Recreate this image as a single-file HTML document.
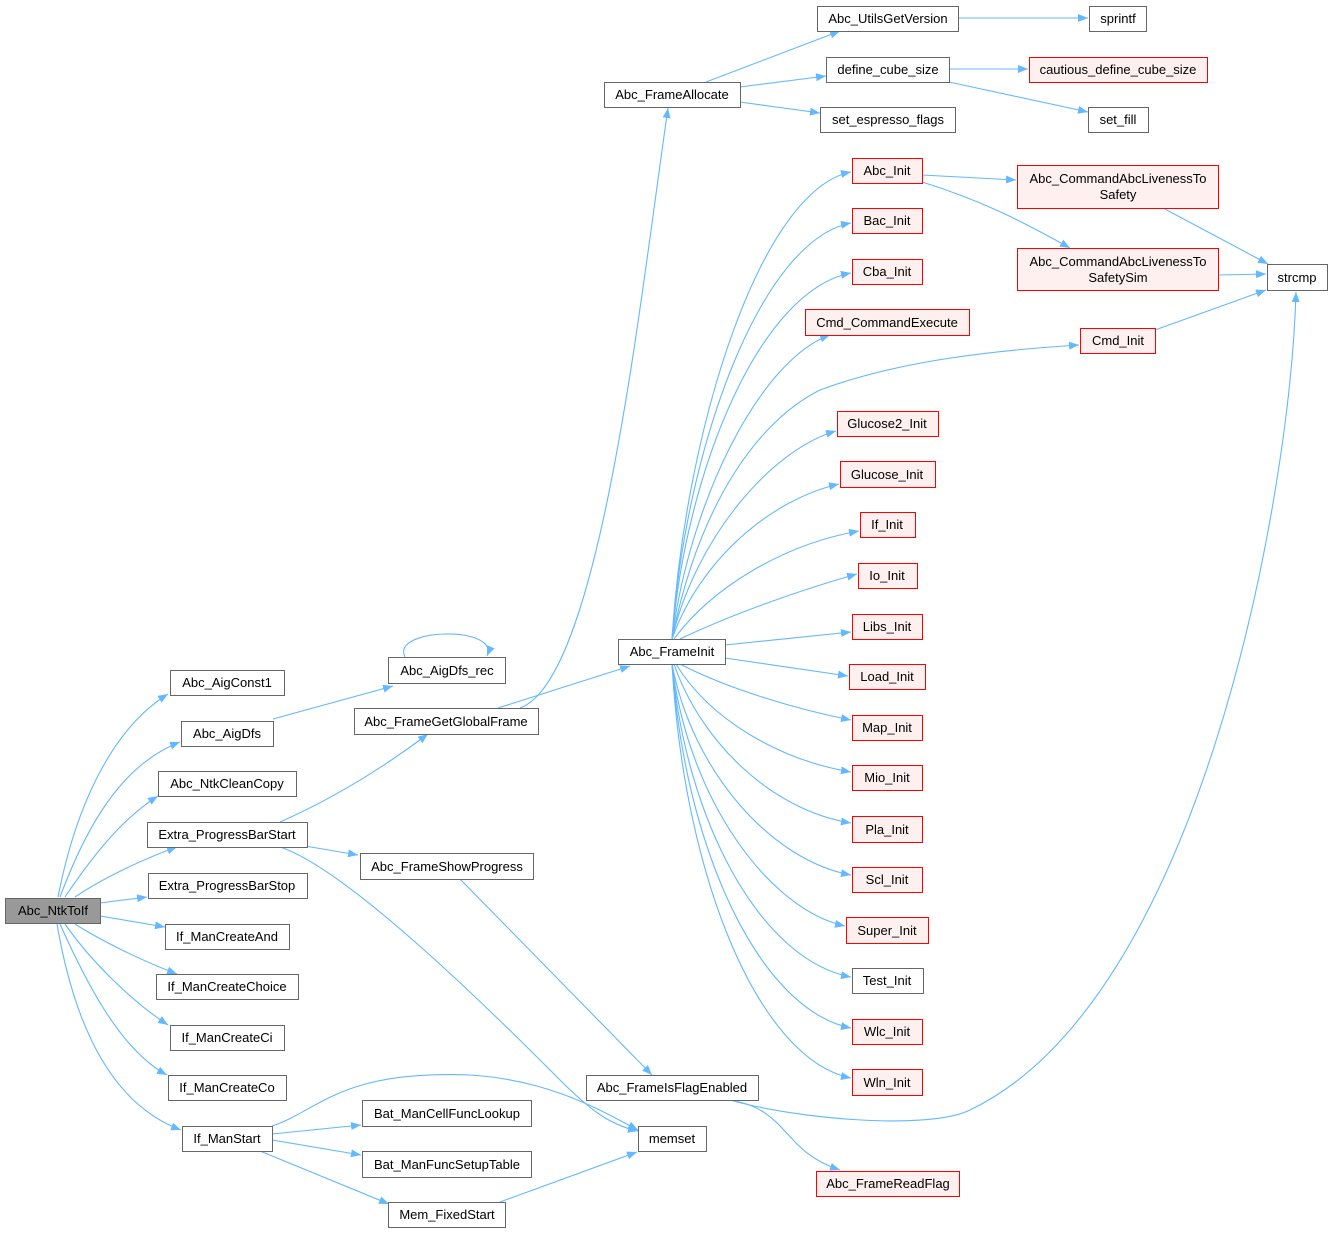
<!DOCTYPE html>
<html><head><meta charset="utf-8"><style>
html,body{margin:0;padding:0;background:#fff}
svg{display:block}
text{font-family:"Liberation Sans",Arial,sans-serif;font-size:13px;fill:#000;text-anchor:middle}
.e{fill:none;stroke:#63b8ff;stroke-width:1.1;marker-end:url(#a)}
.n{fill:#fff;stroke:#666;stroke-width:1}
.r{fill:#fff0f0;stroke:#f00;stroke-width:1}
.g{fill:#999;stroke:#666;stroke-width:1}
</style></head><body>
<svg width="1333" height="1233" viewBox="0 0 1333 1233" xmlns="http://www.w3.org/2000/svg">
<defs><marker id="a" markerUnits="userSpaceOnUse" markerWidth="11" markerHeight="8" refX="10" refY="4" orient="auto"><path d="M0,0 L10,4 L0,8 z" fill="#63b8ff"/></marker></defs>
<g>
<path class="e" d="M58,897 C75,810 110,730 168,694"/>
<path class="e" d="M60,897 C85,830 120,765 180,742"/>
<path class="e" d="M65,897 C90,860 120,820 158,796"/>
<path class="e" d="M75,897 C100,880 140,860 177,847"/>
<path class="e" d="M100,903 L147,897"/>
<path class="e" d="M100,916 L165,927"/>
<path class="e" d="M75,924 C100,940 140,960 177,974"/>
<path class="e" d="M65,924 C90,960 130,1000 168,1025"/>
<path class="e" d="M60,924 C85,980 120,1050 167,1075"/>
<path class="e" d="M57,924 C70,1000 100,1100 181,1130"/>
<path class="e" d="M273,719 L393,686"/>
<path class="e" d="M405,657 C390,628 500,625 487,656"/>
<path class="e" d="M280,822 C330,800 380,770 428,734"/>
<path class="e" d="M305,846 L358,855"/>
<path class="e" d="M280,847 C350,870 500,1020 560,1080 C590,1110 610,1125 638,1131"/>
<path class="e" d="M498,708 L630,666"/>
<path class="e" d="M520,708 C600,680 640,300 668,108"/>
<path class="e" d="M460,879 L652,1075"/>
<path class="e" d="M272,1126 C320,1110 340,1070 470,1075 C550,1080 600,1110 638,1130"/>
<path class="e" d="M272,1134 L361,1125"/>
<path class="e" d="M272,1140 L361,1155"/>
<path class="e" d="M260,1151 L389,1204"/>
<path class="e" d="M500,1202 L637,1152"/>
<path class="e" d="M730,1100 C790,1110 780,1150 840,1170"/>
<path class="e" d="M730,1100 C800,1120 930,1130 970,1110 C1200,1000 1290,500 1296,292"/>
<path class="e" d="M706,82 L840,31"/>
<path class="e" d="M740,87 L826,76"/>
<path class="e" d="M740,102 L820,113"/>
<path class="e" d="M958,18 L1088,18"/>
<path class="e" d="M949,69 L1028,69"/>
<path class="e" d="M949,82 L1088,112"/>
<path class="e" d="M672,639 C685,430 760,190 851,172"/>
<path class="e" d="M672,639 C685,450 760,240 851,223"/>
<path class="e" d="M672,639 C686,470 760,290 851,273"/>
<path class="e" d="M672,639 C690,500 760,360 830,335"/>
<path class="e" d="M672,639 C700,500 760,420 820,390 C900,360 1000,350 1079,345"/>
<path class="e" d="M672,639 C695,540 770,450 836,431"/>
<path class="e" d="M672,639 C700,560 770,500 839,484"/>
<path class="e" d="M674,639 C710,590 780,545 859,531"/>
<path class="e" d="M680,639 C730,615 800,590 857,574"/>
<path class="e" d="M725,645 L851,632"/>
<path class="e" d="M725,658 L848,676"/>
<path class="e" d="M680,664 C730,690 800,710 851,720"/>
<path class="e" d="M676,664 C710,720 780,760 851,772"/>
<path class="e" d="M674,664 C700,740 770,810 851,823"/>
<path class="e" d="M672,664 C692,770 770,860 851,875"/>
<path class="e" d="M672,664 C688,800 770,910 845,926"/>
<path class="e" d="M672,664 C686,820 760,960 851,977"/>
<path class="e" d="M672,664 C685,850 760,1010 851,1028"/>
<path class="e" d="M672,664 C684,880 760,1060 851,1078"/>
<path class="e" d="M922,175 L1016,180"/>
<path class="e" d="M922,182 C980,200 1020,220 1070,248"/>
<path class="e" d="M1163,208 L1268,264"/>
<path class="e" d="M1218,275 L1266,274"/>
<path class="e" d="M1155,330 L1266,290"/>
</g>
<g>
<rect class="g" x="5.5" y="898.5" width="95" height="25"/><text x="53" y="915">Abc_NtkToIf</text>
<rect class="n" x="170.5" y="670.5" width="114" height="25"/><text x="227" y="687">Abc_AigConst1</text>
<rect class="n" x="181.5" y="721.5" width="92" height="25"/><text x="227" y="738">Abc_AigDfs</text>
<rect class="n" x="158.5" y="771.5" width="138" height="25"/><text x="227" y="788">Abc_NtkCleanCopy</text>
<rect class="n" x="147.5" y="822.5" width="160" height="25"/><text x="227" y="839">Extra_ProgressBarStart</text>
<rect class="n" x="148.5" y="873.5" width="159" height="25"/><text x="227" y="890">Extra_ProgressBarStop</text>
<rect class="n" x="165.5" y="924.5" width="124" height="25"/><text x="227" y="941">If_ManCreateAnd</text>
<rect class="n" x="156.5" y="974.5" width="142" height="25"/><text x="227" y="991">If_ManCreateChoice</text>
<rect class="n" x="170.5" y="1025.5" width="114" height="25"/><text x="227" y="1042">If_ManCreateCi</text>
<rect class="n" x="168.5" y="1075.5" width="118" height="25"/><text x="227" y="1092">If_ManCreateCo</text>
<rect class="n" x="182.5" y="1126.5" width="90" height="25"/><text x="227" y="1143">If_ManStart</text>
<rect class="n" x="388.5" y="657.5" width="117" height="26"/><text x="447" y="675">Abc_AigDfs_rec</text>
<rect class="n" x="354.5" y="708.5" width="184" height="26"/><text x="446" y="726">Abc_FrameGetGlobalFrame</text>
<rect class="n" x="360.5" y="853.5" width="173" height="26"/><text x="447" y="871">Abc_FrameShowProgress</text>
<rect class="n" x="362.5" y="1100.5" width="169" height="26"/><text x="447" y="1118">Bat_ManCellFuncLookup</text>
<rect class="n" x="362.5" y="1151.5" width="169" height="26"/><text x="447" y="1169">Bat_ManFuncSetupTable</text>
<rect class="n" x="388.5" y="1202.5" width="117" height="25"/><text x="447" y="1219">Mem_FixedStart</text>
<rect class="n" x="638.5" y="1126.5" width="68" height="25"/><text x="672" y="1143">memset</text>
<rect class="n" x="586.5" y="1075.5" width="172" height="25"/><text x="672" y="1092">Abc_FrameIsFlagEnabled</text>
<rect class="r" x="816.5" y="1171.5" width="143" height="25"/><text x="888" y="1188">Abc_FrameReadFlag</text>
<rect class="n" x="618.5" y="639.5" width="107" height="25"/><text x="672" y="656">Abc_FrameInit</text>
<rect class="n" x="604.5" y="82.5" width="136" height="25"/><text x="672" y="99">Abc_FrameAllocate</text>
<rect class="n" x="817.5" y="6.5" width="141" height="25"/><text x="888" y="23">Abc_UtilsGetVersion</text>
<rect class="n" x="826.5" y="57.5" width="123" height="25"/><text x="888" y="74">define_cube_size</text>
<rect class="n" x="820.5" y="107.5" width="135" height="25"/><text x="888" y="124">set_espresso_flags</text>
<rect class="n" x="1089.5" y="6.5" width="57" height="25"/><text x="1118" y="23">sprintf</text>
<rect class="r" x="1029.5" y="57.5" width="178" height="25"/><text x="1118" y="74">cautious_define_cube_size</text>
<rect class="n" x="1088.5" y="107.5" width="60" height="25"/><text x="1118" y="124">set_fill</text>
<rect class="r" x="852.5" y="158.5" width="70" height="25"/><text x="887" y="175">Abc_Init</text>
<rect class="r" x="852.5" y="208.5" width="70" height="25"/><text x="887" y="225">Bac_Init</text>
<rect class="r" x="852.5" y="259.5" width="70" height="25"/><text x="887" y="276">Cba_Init</text>
<rect class="r" x="805.5" y="309.5" width="164" height="26"/><text x="887" y="327">Cmd_CommandExecute</text>
<rect class="r" x="1080.5" y="328.5" width="75" height="25"/><text x="1118" y="345">Cmd_Init</text>
<rect class="r" x="837.5" y="411.5" width="101" height="25"/><text x="887" y="428">Glucose2_Init</text>
<rect class="r" x="840.5" y="461.5" width="95" height="26"/><text x="887" y="479">Glucose_Init</text>
<rect class="r" x="860.5" y="512.5" width="55" height="25"/><text x="887" y="529">If_Init</text>
<rect class="r" x="858.5" y="563.5" width="59" height="25"/><text x="887" y="580">Io_Init</text>
<rect class="r" x="852.5" y="614.5" width="70" height="25"/><text x="887" y="631">Libs_Init</text>
<rect class="r" x="849.5" y="664.5" width="76" height="25"/><text x="887" y="681">Load_Init</text>
<rect class="r" x="852.5" y="715.5" width="70" height="25"/><text x="887" y="732">Map_Init</text>
<rect class="r" x="852.5" y="765.5" width="70" height="25"/><text x="887" y="782">Mio_Init</text>
<rect class="r" x="852.5" y="816.5" width="70" height="26"/><text x="887" y="834">Pla_Init</text>
<rect class="r" x="852.5" y="867.5" width="70" height="25"/><text x="887" y="884">Scl_Init</text>
<rect class="r" x="846.5" y="917.5" width="82" height="26"/><text x="887" y="935">Super_Init</text>
<rect class="n" x="852.5" y="968.5" width="71" height="25"/><text x="887" y="985">Test_Init</text>
<rect class="r" x="852.5" y="1019.5" width="70" height="25"/><text x="887" y="1036">Wlc_Init</text>
<rect class="r" x="852.5" y="1069.5" width="70" height="26"/><text x="887" y="1087">Wln_Init</text>
<rect class="r" x="1017.5" y="165.5" width="201" height="43"/><text x="1118" y="183">Abc_CommandAbcLivenessTo</text><text x="1118" y="199">Safety</text>
<rect class="r" x="1017.5" y="248.5" width="201" height="42"/><text x="1118" y="266">Abc_CommandAbcLivenessTo</text><text x="1118" y="282">SafetySim</text>
<rect class="n" x="1267.5" y="264.5" width="60" height="26"/><text x="1297" y="282">strcmp</text>
</g>
</svg>
</body></html>
